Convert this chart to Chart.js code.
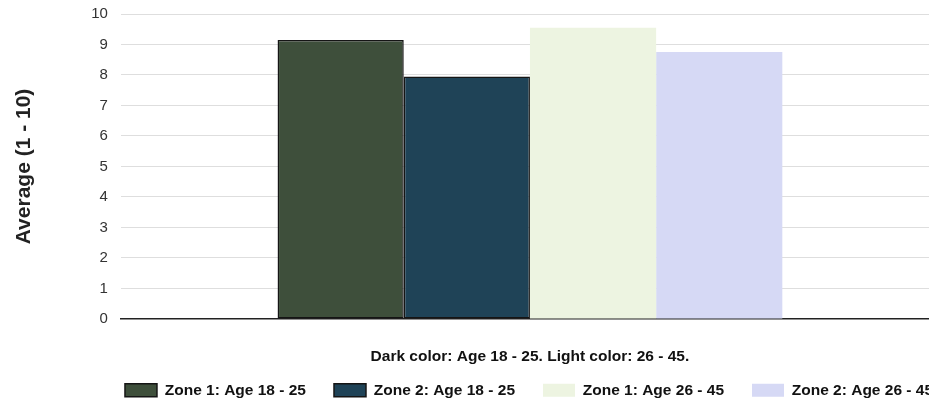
<!DOCTYPE html>
<html>
<head>
<meta charset="utf-8">
<script src="https://cdn.jsdelivr.net/npm/chart.js@4"></script>
<style>
  html, body { margin: 0; padding: 0; background: #fff; overflow: hidden; }
  #wrap { position: absolute; left: 0; top: 0; width: 1058px; height: 405px; }
</style>
</head>
<body>
<div id="wrap"><canvas id="avgChart"></canvas></div>
<script>
// one group, four bars (zone x age band)
const categories = [''];
const seriesNames = ['Zone 1: Age 18 - 25', 'Zone 2: Age 18 - 25', 'Zone 1: Age 26 - 45', 'Zone 2: Age 26 - 45'];
const zone1Young = [9.15];
const zone2Young = [7.95];
const zone1Older = [9.55];
const zone2Older = [8.75];
const yTicks = [0, 1, 2, 3, 4, 5, 6, 7, 8, 9, 10];

const fills = ['#3e4f3b', '#1f4357', '#edf4e1', '#d6d9f5'];
const values = [zone1Young, zone2Young, zone1Older, zone2Older];

document.addEventListener('DOMContentLoaded', () => {
    const ctx = document.getElementById('avgChart').getContext('2d');
    Chart.defaults.font.family = '"Liberation Sans", Arial, sans-serif';

    new Chart(ctx, {
        type: 'bar',
        data: {
            labels: categories,
            datasets: seriesNames.map((name, i) => ({
                label: name,
                data: values[i],
                backgroundColor: fills[i],
                borderColor: i < 2 ? '#151515' : fills[i],
                borderWidth: i < 2 ? 1.5 : 0,
                borderSkipped: false,
                barPercentage: 1.0,
                categoryPercentage: 0.617
            }))
        },
        options: {
            responsive: true,
            maintainAspectRatio: false,
            animation: false,
            layout: { padding: { top: 14, left: 0, right: 0, bottom: -3 } },
            plugins: {
                title: { display: false },
                tooltip: { enabled: false },
                legend: {
                    position: 'bottom',
                    labels: {
                        boxWidth: 32,
                        boxHeight: 13,
                        padding: 28,
                        color: '#111',
                        font: { size: 15.5, weight: 'bold' }
                    }
                }
            },
            scales: {
                x: {
                    ticks: { display: false },
                    grid: { display: false, drawTicks: false },
                    border: { display: true, color: '#222', width: 1.5 },
                    title: {
                        display: true,
                        text: 'Dark color: Age 18 - 25. Light color: 26 - 45.',
                        color: '#111',
                        font: { size: 15.5, weight: 'bold' },
                        padding: { top: 29, bottom: -12 }
                    }
                },
                y: {
                    min: 0,
                    max: 10,
                    afterBuildTicks: (axis) => { axis.ticks = yTicks.map(v => ({ value: v })); },
                    // tick padding would otherwise push the plot top down
                    afterFit: (axis) => { axis.paddingTop = 0; },
                    ticks: {
                        padding: 13,
                        color: '#333',
                        font: { size: 15 }
                    },
                    grid: {
                        drawTicks: false,
                        color: (c) => c.tick.value === 0 ? 'rgba(0,0,0,0)' : '#dedede',
                        lineWidth: 1
                    },
                    border: { display: false },
                    title: {
                        display: true,
                        text: 'Average (1 - 10)',
                        color: '#222',
                        font: { size: 21, weight: 'bold' },
                        padding: { top: 12, bottom: 41 }
                    }
                },
                // empty right-hand axis, only keeps space so the plot ends where the reference does
                yRight: {
                    position: 'right',
                    min: 0,
                    max: 10,
                    ticks: { display: false },
                    grid: { display: false, drawTicks: false },
                    border: { display: false },
                    afterFit: (axis) => { axis.width = 119; }
                }
            }
        }
    });
});
</script>
</body>
</html>
